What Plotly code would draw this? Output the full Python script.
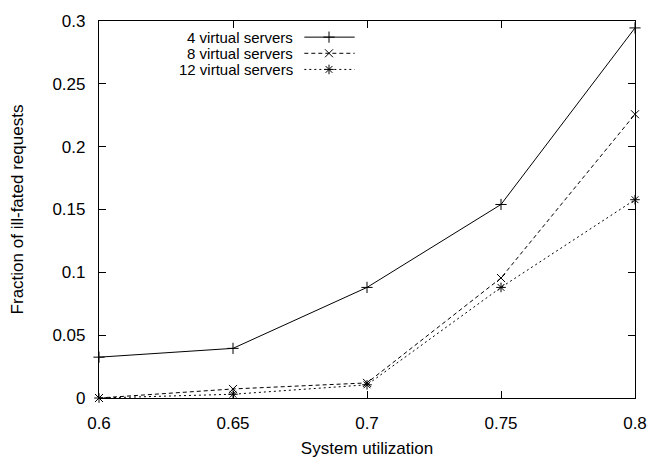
import plotly.graph_objects as go

utilization = [0.6, 0.65, 0.7, 0.75, 0.8]
vs4 = [0.0325, 0.0395, 0.088, 0.154, 0.2945]
vs8 = [0.0, 0.0072, 0.012, 0.0955, 0.2258]
vs12 = [0.0, 0.003, 0.0105, 0.088, 0.1578]

series_names = ["4 virtual servers", "8 virtual servers", "12 virtual servers"]
series_values = [vs4, vs8, vs12]
symbols = ["cross-thin", "x-thin", "asterisk"]
dashes = ["solid", "4px,3px", "2px,3px"]

x_ticks = [0.6, 0.65, 0.7, 0.75, 0.8]
x_tick_labels = ["0.6", "0.65", "0.7", "0.75", "0.8"]
y_ticks = [0, 0.05, 0.1, 0.15, 0.2, 0.25, 0.3]
y_tick_labels = ["0", "0.05", "0.1", "0.15", "0.2", "0.25", "0.3"]

FONT = "Liberation Sans, Arial, sans-serif"
FS = 17
KEY_FS = 15

fig = go.Figure()
for name, vals, sym, dash in zip(series_names, series_values, symbols, dashes):
    fig.add_trace(go.Scatter(
        x=utilization, y=vals, mode="lines+markers", name=name,
        line=dict(color="black", width=1, dash=dash),
        marker=dict(symbol=sym, size=8, color="black",
                    line=dict(color="black", width=1)),
        showlegend=False, cliponaxis=False,
    ))

# gnuplot-style key: text right-aligned, sample on its right (pixel overlay axis)
key_rows_y = [29, 46, 63]
key_text_right = 297
key_line = [307, 358]
key_mark = 332
for name, sym, dash, ry in zip(series_names, symbols, dashes, key_rows_y):
    fig.add_trace(go.Scatter(
        x=key_line, y=[ry, ry], mode="lines", xaxis="x2", yaxis="y2",
        line=dict(color="black", width=1, dash=dash), showlegend=False,
        hoverinfo="skip"))
    fig.add_trace(go.Scatter(
        x=[key_mark], y=[ry], mode="markers", xaxis="x2", yaxis="y2",
        marker=dict(symbol=sym, size=8, color="black",
                    line=dict(color="black", width=1)),
        showlegend=False, hoverinfo="skip"))
    fig.add_annotation(x=key_text_right, y=ry, xref="x2", yref="y2",
                       text=name, showarrow=False, xanchor="right",
                       yanchor="middle", borderpad=0,
                       font=dict(family=FONT, size=KEY_FS, color="black"))

axis_common = dict(
    showgrid=False, zeroline=False, showline=True, linecolor="black",
    linewidth=1.2, mirror="allticks", ticks="inside", ticklen=7,
    tickwidth=1, tickcolor="black",
    tickfont=dict(family=FONT, size=FS, color="black"),
)

fig.update_layout(
    width=659, height=466,
    margin=dict(l=99, r=17, t=12, b=57),
    paper_bgcolor="white", plot_bgcolor="white",
    xaxis=dict(range=[0.6, 0.8], tickvals=x_ticks, ticktext=x_tick_labels,
               title=dict(text="System utilization", standoff=10,
                          font=dict(family=FONT, size=FS, color="black")),
               ticklabelstandoff=9, **axis_common),
    yaxis=dict(range=[0, 0.3], tickvals=y_ticks, ticktext=y_tick_labels,
               title=dict(text="Fraction of ill-fated requests", standoff=24,
                          font=dict(family=FONT, size=FS, color="black")),
               ticklabelstandoff=9, **axis_common),
    xaxis2=dict(range=[99, 642], overlaying="x", visible=False, fixedrange=True),
    yaxis2=dict(range=[409, 12], overlaying="y", visible=False, fixedrange=True),
    showlegend=False,
)

fig.write_html("out.html")
